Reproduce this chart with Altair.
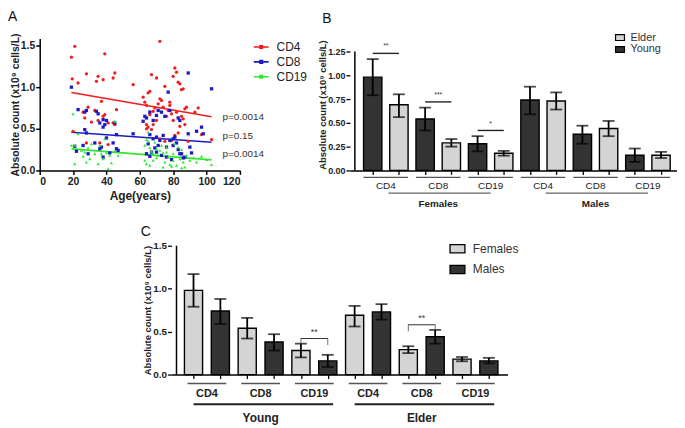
import altair as alt
import pandas as pd

FONT = "Liberation Sans"

# ---------------- Panel A data ----------------
series_names = ["CD4", "CD8", "CD19"]
series_colors = ["#f21d1d", "#1b1bc6", "#30e830"]
series_shapes = ["circle", "square", "triangle-up"]

cd4_age = [19, 19.5, 21, 23, 28, 34, 35, 38, 39, 44, 45, 37, 56, 20, 26, 27, 29, 31, 35, 33,
           38, 39, 41, 44, 46, 28, 36, 41, 45, 62, 63, 64, 65, 66, 67, 70, 72, 72, 71, 73,
           75, 74, 69, 68, 66, 64, 65, 67, 64, 68, 78, 80, 81, 82, 83, 84, 85, 86, 87, 88,
           79, 77, 76, 80, 82, 85, 86, 83, 81, 79, 84, 89, 93, 95, 97, 103, 75, 72, 70, 78, 87]
cd4_val = [1.36, 1.10, 1.49, 1.05, 1.16, 1.07, 1.13, 1.09, 1.40, 1.11, 1.17, 0.83, 1.03, 0.47, 0.70, 0.63, 0.76, 0.58, 0.60, 0.72,
           0.65, 0.67, 0.57, 0.57, 0.73, 0.33, 0.33, 0.31, 0.55, 0.88, 0.82, 0.78, 0.93, 0.95, 1.15, 1.11, 1.55, 0.86, 0.80, 0.84,
           1.01, 0.76, 0.75, 0.71, 0.67, 0.50, 0.52, 0.49, 0.55, 0.55, 0.82, 1.13, 1.23, 1.18, 1.06, 1.04, 0.97, 0.98, 0.74, 0.76,
           0.68, 0.72, 0.65, 0.60, 0.70, 0.65, 0.62, 0.45, 0.42, 0.36, 0.53, 0.35, 0.70, 0.75, 0.43, 0.37, 0.35, 0.38, 0.60, 0.78, 0.55]

cd8_age = [19, 23, 27, 28, 34, 35, 38, 40, 39, 36, 38, 21, 22, 27, 28, 26, 29, 33, 36, 37,
           40, 44, 45, 46, 46, 42, 38, 47, 56, 63, 62, 64, 66, 66, 68, 70, 71, 73, 75, 77,
           78, 74, 72, 70, 68, 65, 64, 66, 67, 69, 71, 73, 76, 78, 80, 81, 82, 80, 83, 84,
           85, 84, 83, 86, 87, 89, 89, 90, 91, 94, 97, 98, 103, 79, 76, 70]
cd8_val = [1.00, 0.73, 0.70, 0.72, 0.71, 0.68, 0.61, 0.60, 0.55, 0.57, 0.52, 0.29, 0.23, 0.49, 0.45, 0.30, 0.20, 0.33, 0.26, 0.28,
           0.39, 0.33, 0.57, 0.43, 0.26, 0.21, 0.16, 0.24, 0.44, 0.65, 0.59, 0.63, 0.70, 0.43, 0.60, 0.66, 0.72, 0.70, 0.65, 0.94,
           0.72, 0.42, 0.36, 0.40, 0.38, 0.32, 0.20, 0.17, 0.22, 0.27, 0.30, 0.18, 0.28, 0.36, 0.38, 0.40, 0.33, 0.30, 0.25, 0.20,
           0.20, 0.60, 0.63, 0.15, 0.16, 1.17, 0.44, 0.28, 0.21, 0.47, 0.52, 0.44, 0.98, 0.13, 0.16, 0.22]

cd19_age = [19, 20, 21, 21, 23, 25, 27, 28, 29, 30, 33, 35, 36, 37, 38, 39, 40, 42, 43, 45,
            45, 47, 41, 31, 26, 63, 64, 65, 65, 66, 67, 68, 63, 64, 66, 68, 70, 71, 72, 73,
            74, 75, 76, 77, 78, 79, 80, 81, 82, 83, 84, 85, 86, 87, 88, 90, 92, 94, 97, 100,
            103, 80, 76, 70, 85, 74, 69]
cd19_val = [0.30, 0.68, 0.30, 0.08, 0.44, 0.24, 0.22, 0.10, 0.27, 0.14, 0.20, 0.08, 0.30, 0.20, 0.14, 0.38, 0.21, 0.18, 0.09, 0.59,
            0.23, 0.18, 0.02, 0.32, 0.17, 0.30, 0.37, 0.35, 0.46, 0.27, 0.23, 0.20, 0.12, 0.08, 0.06, 0.12, 0.15, 0.18, 0.24, 0.30,
            0.21, 0.10, 0.28, 0.16, 0.07, 0.05, 0.12, 0.32, 0.06, 0.28, 0.14, 0.25, 0.10, 0.04, 0.18, 0.12, 0.15, 0.10, 0.17, 0.13,
            0.07, 0.20, 0.22, 0.26, 0.03, 0.04, 0.34]

fit_age_start = [19, 19, 19]
fit_age_end = [103, 103, 103]
fit_val_start = [0.935, 0.458, 0.259]
fit_val_end = [0.645, 0.338, 0.127]
p_labels = ["p=0.0014", "p=0.15", "p=0.0014"]
p_label_value = [0.637, 0.418, 0.191]

# ---------------- Panels B / C data ----------------
markers = ["CD4", "CD8", "CD19"]
young_f = [0.98, 0.54, 0.28]
young_f_lo = [0.79, 0.42, 0.20]
young_f_hi = [1.17, 0.66, 0.36]
elder_f = [0.69, 0.29, 0.18]
elder_f_lo = [0.56, 0.25, 0.155]
elder_f_hi = [0.80, 0.33, 0.205]
young_m = [0.74, 0.38, 0.16]
young_m_lo = [0.59, 0.28, 0.09]
young_m_hi = [0.88, 0.47, 0.23]
elder_m = [0.73, 0.44, 0.16]
elder_m_lo = [0.64, 0.36, 0.13]
elder_m_hi = [0.82, 0.52, 0.195]

b_stars = {"Females": ["**", "***", "*"], "Males": ["", "", ""]}
c_stars = {"Young": ["", "", "**"], "Elder": ["", "**", ""]}

stats = {
    ("Females", "Young"): (young_f, young_f_lo, young_f_hi),
    ("Females", "Elder"): (elder_f, elder_f_lo, elder_f_hi),
    ("Males", "Young"): (young_m, young_m_lo, young_m_hi),
    ("Males", "Elder"): (elder_m, elder_m_lo, elder_m_hi),
}

YTITLE = "Absolute count (x10\u2079 cells/L)"


def letter_layer(letter, x, y, size=14):
    return alt.Chart(pd.DataFrame({"t": [letter]})).mark_text(
        align="left", baseline="alphabetic", font=FONT, fontSize=size, color="#111").encode(
        text="t:N", x=alt.value(x), y=alt.value(y))


# ---------------- Panel A ----------------
series_points = {
    "CD4": pd.DataFrame({"age": cd4_age, "value": cd4_val}),
    "CD8": pd.DataFrame({"age": cd8_age, "value": cd8_val}),
    "CD19": pd.DataFrame({"age": cd19_age, "value": cd19_val}),
}
fits = pd.DataFrame({"series": series_names, "a0": fit_age_start, "a1": fit_age_end,
                     "v0": fit_val_start, "v1": fit_val_end, "p": p_labels, "pv": p_label_value})

HA = 133
xsA = alt.Scale(domain=[0, 120], nice=False)
ysA = alt.Scale(domain=[0, 1.583], nice=False)
xaxA = alt.Axis(values=[0, 20, 40, 60, 80, 100, 120], title="Age(years)", grid=False,
                labelFont=FONT, labelFontSize=10.5, labelFontWeight="bold", labelColor="#222",
                titleFont=FONT, titleFontSize=12, titleFontWeight="bold", titleColor="#222",
                titlePadding=4, labelPadding=2,
                domainColor="black", domainWidth=1.5, tickColor="black", tickWidth=1.5, tickSize=4)
yaxA = alt.Axis(values=[0, 0.5, 1.0, 1.5], format=".1f", title=YTITLE, grid=False,
                labelFont=FONT, labelFontSize=10.5, labelFontWeight="bold", labelColor="#222",
                titleFont=FONT, titleFontSize=10.5, titleFontWeight="bold", titleColor="#222",
                titlePadding=0, labelPadding=1,
                domainColor="black", domainWidth=1.5, tickColor="black", tickWidth=1.5, tickSize=4)
colA = alt.Scale(domain=series_names, range=series_colors)
legA = alt.Legend(title=None, orient="none", legendX=215, legendY=0, padding=0,
                  symbolType="M-1,0H1M-0.17,-0.17H0.17V0.17H-0.17Z", symbolSize=225,
                  symbolStrokeWidth=1.6, labelFont=FONT, labelFontSize=12, labelColor="#222",
                  labelOffset=7, rowPadding=0)

fit_lines = alt.Chart(fits).mark_rule(strokeWidth=1.6).encode(
    x=alt.X("a0:Q", scale=xsA, axis=xaxA), x2="a1",
    y=alt.Y("v0:Q", scale=ysA, axis=yaxA), y2="v1",
    color=alt.Color("series:N", scale=colA, legend=legA),
)
point_layers = []
for name, col, shp in zip(series_names, series_colors, series_shapes):
    point_layers.append(
        alt.Chart(series_points[name]).mark_point(filled=True, size=11, opacity=1, shape=shp, color=col).encode(
            x=alt.X("age:Q", scale=xsA, axis=xaxA),
            y=alt.Y("value:Q", scale=ysA, axis=yaxA)))
p_text = alt.Chart(fits).mark_text(align="left", baseline="middle", dx=11,
                                   font=FONT, fontSize=10, color="#333").encode(
    x=alt.X("a1:Q", scale=xsA, axis=xaxA), y=alt.Y("pv:Q", scale=ysA, axis=yaxA), text="p:N")

chartA = alt.layer(fit_lines, *point_layers, p_text, letter_layer("A", -32, -18)).properties(
    width=202, height=HA)


# ---------------- bar panel helper ----------------
def bar_panel(rows, hue_field, hue_domain, hue_colors, width, height, x_domain, y_max, y_top, y_vals,
              y_fmt, sizes, offsets, leg, letter, letter_xy, bracket_ticks, group_line_span,
              pair_half, group_weight_line):
    df = pd.DataFrame(rows)
    pairs = []
    for i in range(0, len(rows), 2):
        a, b = rows[i], rows[i + 1]
        pairs.append({"pa": a["pos"], "pb": b["pos"], "pc": (a["pos"] + b["pos"]) / 2,
                      "marker": a["marker"], "star": a["star"],
                      "top": max(a["hi"], b["hi"]) + 0.06,
                      "l0": (a["pos"] + b["pos"]) / 2 - pair_half,
                      "l1": (a["pos"] + b["pos"]) / 2 + pair_half})
    pairs = pd.DataFrame(pairs)
    stars = pairs[pairs["star"] != ""]
    groups = []
    for g in df["group"].unique():
        sub = df[df["group"] == g]
        first, last = sub["pos"].min(), sub["pos"].max()
        groups.append({"group": g, "g0": first + group_line_span[0], "g1": last + group_line_span[1],
                       "gc": (first + last) / 2})
    groups = pd.DataFrame(groups)

    xs = alt.Scale(domain=x_domain, nice=False, zero=False)
    ys = alt.Scale(domain=[0, y_max], nice=False)
    xax = alt.Axis(values=list(range(len(rows))), labels=False, title=None, grid=False,
                   domainColor="black", domainWidth=1.5, tickColor="black", tickWidth=1.3, tickSize=4)
    yax = alt.Axis(values=y_vals, format=y_fmt, title=YTITLE, grid=False, domain=False,
                   labelFont=FONT, labelFontSize=sizes["ylab"], labelFontWeight="bold", labelColor="#222",
                   titleFont=FONT, titleFontSize=sizes["ytitle"], titleFontWeight="bold", titleColor="#222",
                   titlePadding=sizes["tpad"], labelPadding=1,
                   tickColor="black", tickWidth=1.3, tickSize=4)

    def X(f):
        return alt.X(f, scale=xs, axis=xax)

    def Y(f):
        return alt.Y(f, scale=ys, axis=yax)

    axis_line = alt.Chart(pd.DataFrame({"x": [x_domain[0]], "y0": [0], "y1": [y_top]})).mark_rule(
        color="black", strokeWidth=1.5).encode(x=X("x:Q"), y=Y("y0:Q"), y2="y1")
    bars = alt.Chart(df).mark_bar(size=sizes["bar"], stroke="black", strokeWidth=1.4).encode(
        x=X("pos:Q"), y=Y("mean:Q"),
        fill=alt.Fill(f"{hue_field}:N", scale=alt.Scale(domain=hue_domain, range=hue_colors), legend=leg),
    )
    err = alt.Chart(df).mark_rule(color="black", strokeWidth=1.8).encode(x=X("pos:Q"), y=Y("lo:Q"), y2="hi")
    cap_lo = alt.Chart(df).mark_tick(color="black", orient="horizontal", size=12, thickness=1.8).encode(
        x=X("pos:Q"), y=Y("lo:Q"))
    cap_hi = alt.Chart(df).mark_tick(color="black", orient="horizontal", size=12, thickness=1.8).encode(
        x=X("pos:Q"), y=Y("hi:Q"))
    br = alt.Chart(stars).mark_rule(color=sizes["brcolor"], strokeWidth=sizes["brw"]).encode(
        x=X("pa:Q"), x2="pb", y=Y("top:Q"))
    st = alt.Chart(stars).mark_text(font=FONT, fontSize=sizes["star"], color="#333", dy=-7,
                                    baseline="middle").encode(x=X("pc:Q"), y=Y("top:Q"), text="star:N")
    layers = [bars, axis_line, err, cap_lo, cap_hi, br, st]
    if bracket_ticks:
        for f in ["pa", "pb"]:
            layers.append(alt.Chart(stars).mark_tick(color="#333", orient="vertical", size=7,
                                                     thickness=1, yOffset=3).encode(x=X(f"{f}:Q"), y=Y("top:Q")))
    pline = alt.Chart(pairs).mark_rule(color="#555", strokeWidth=1.3).encode(
        x=X("l0:Q"), x2="l1", y=alt.value(height + offsets["pline"]))
    plab = alt.Chart(pairs).mark_text(font=FONT, fontSize=sizes["plab"], fontWeight=sizes["plabw"],
                                      color="#222", baseline="middle").encode(
        x=X("pc:Q"), y=alt.value(height + offsets["plab"]), text="marker:N")
    gline = alt.Chart(groups).mark_rule(color="#222" if group_weight_line > 1.5 else "#666",
                                        strokeWidth=group_weight_line).encode(
        x=X("g0:Q"), x2="g1", y=alt.value(height + offsets["gline"]))
    glab = alt.Chart(groups).mark_text(font=FONT, fontSize=sizes["glab"], fontWeight="bold",
                                       color="#222", baseline="middle").encode(
        x=X("gc:Q"), y=alt.value(height + offsets["glab"]), text="group:N")
    layers += [pline, plab, gline, glab, letter_layer(letter, letter_xy[0], letter_xy[1])]
    return alt.layer(*layers).properties(width=width, height=height)


# ---------------- Panel B ----------------
rows_b = []
pos = 0
for g in ["Females", "Males"]:
    for k, m in enumerate(markers):
        for a in ["Young", "Elder"]:
            mean, lo, hi = stats[(g, a)]
            rows_b.append({"pos": pos, "group": g, "marker": m, "age_group": a,
                           "mean": mean[k], "lo": lo[k], "hi": hi[k], "star": b_stars[g][k]})
            pos += 1

legB = alt.Legend(title=None, orient="none", legendX=267, legendY=-6.5, padding=0,
                  symbolType="M-1,-0.65H1V0.65H-1Z", symbolSize=81, symbolStrokeColor="black",
                  symbolStrokeWidth=1.2, labelFont=FONT, labelFontSize=11, labelColor="#333",
                  labelOffset=5, rowPadding=0)
chartB = bar_panel(rows_b, "age_group", ["Elder", "Young"], ["#d4d4d4", "#333333"], 330, HA,
                   [-0.68, 11.42], 1.25 * HA / 120, 1.25, [0, 0.25, 0.5, 0.75, 1.0, 1.25], ".2f",
                   {"ylab": 9, "ytitle": 9.5, "bar": 18.5, "star": 7, "plab": 10, "plabw": "normal",
                    "glab": 10, "brcolor": "#222", "brw": 1.4, "tpad": 0},
                   {"pline": 7, "plab": 16, "gline": 23, "glab": 34}, legB, "B", (-28, -16), False,
                   (0.6, -0.5), 0.85, 1.3)

# ---------------- Panel C ----------------
rows_c = []
pos = 0
for a in ["Young", "Elder"]:
    for k, m in enumerate(markers):
        for g in ["Females", "Males"]:
            mean, lo, hi = stats[(g, a)]
            rows_c.append({"pos": pos, "group": a, "marker": m, "sex": g,
                           "mean": mean[k], "lo": lo[k], "hi": hi[k], "star": c_stars[a][k]})
            pos += 1

legC = alt.Legend(title=None, orient="none", legendX=280, legendY=-5.5, padding=0,
                  symbolType="M-1,-0.55H1V0.55H-1Z", symbolSize=225, symbolStrokeColor="black",
                  symbolStrokeWidth=1.3, labelFont=FONT, labelFontSize=12, labelColor="#333",
                  labelOffset=7, rowPadding=5)
chartC = bar_panel(rows_c, "sex", ["Females", "Males"], ["#d4d4d4", "#333333"], 339, 130,
                   [-0.634, 11.51], 1.5, 1.5, [0, 0.5, 1.0, 1.5], ".1f",
                   {"ylab": 10, "ytitle": 9.5, "bar": 18.3, "star": 9, "plab": 11, "plabw": "bold",
                    "glab": 12, "brcolor": "#333", "brw": 1, "tpad": 0},
                   {"pline": 9, "plab": 20, "gline": 30, "glab": 44}, legC, "C", (-31, -10), True,
                   (0, 0.2), 0.72, 2)

spacer = alt.Chart(pd.DataFrame({"v": [0]})).mark_point(opacity=0, size=1).encode(
    x=alt.value(0), y=alt.value(0)).properties(width=102, height=10)

top = alt.hconcat(chartA, chartB, spacing=10).resolve_scale(
    x="independent", y="independent", color="independent", fill="independent")
bottom = alt.hconcat(spacer, chartC, spacing=0).resolve_scale(
    x="independent", y="independent", fill="independent")
chart = alt.vconcat(top, bottom, spacing=16).resolve_scale(
    x="independent", y="independent", fill="independent").properties(
    padding={"left": 0, "top": 0, "right": 0, "bottom": 0}, background="white"
).configure_view(stroke=None)

chart.save("out.html", embed_options={"renderer": "svg", "actions": False})
